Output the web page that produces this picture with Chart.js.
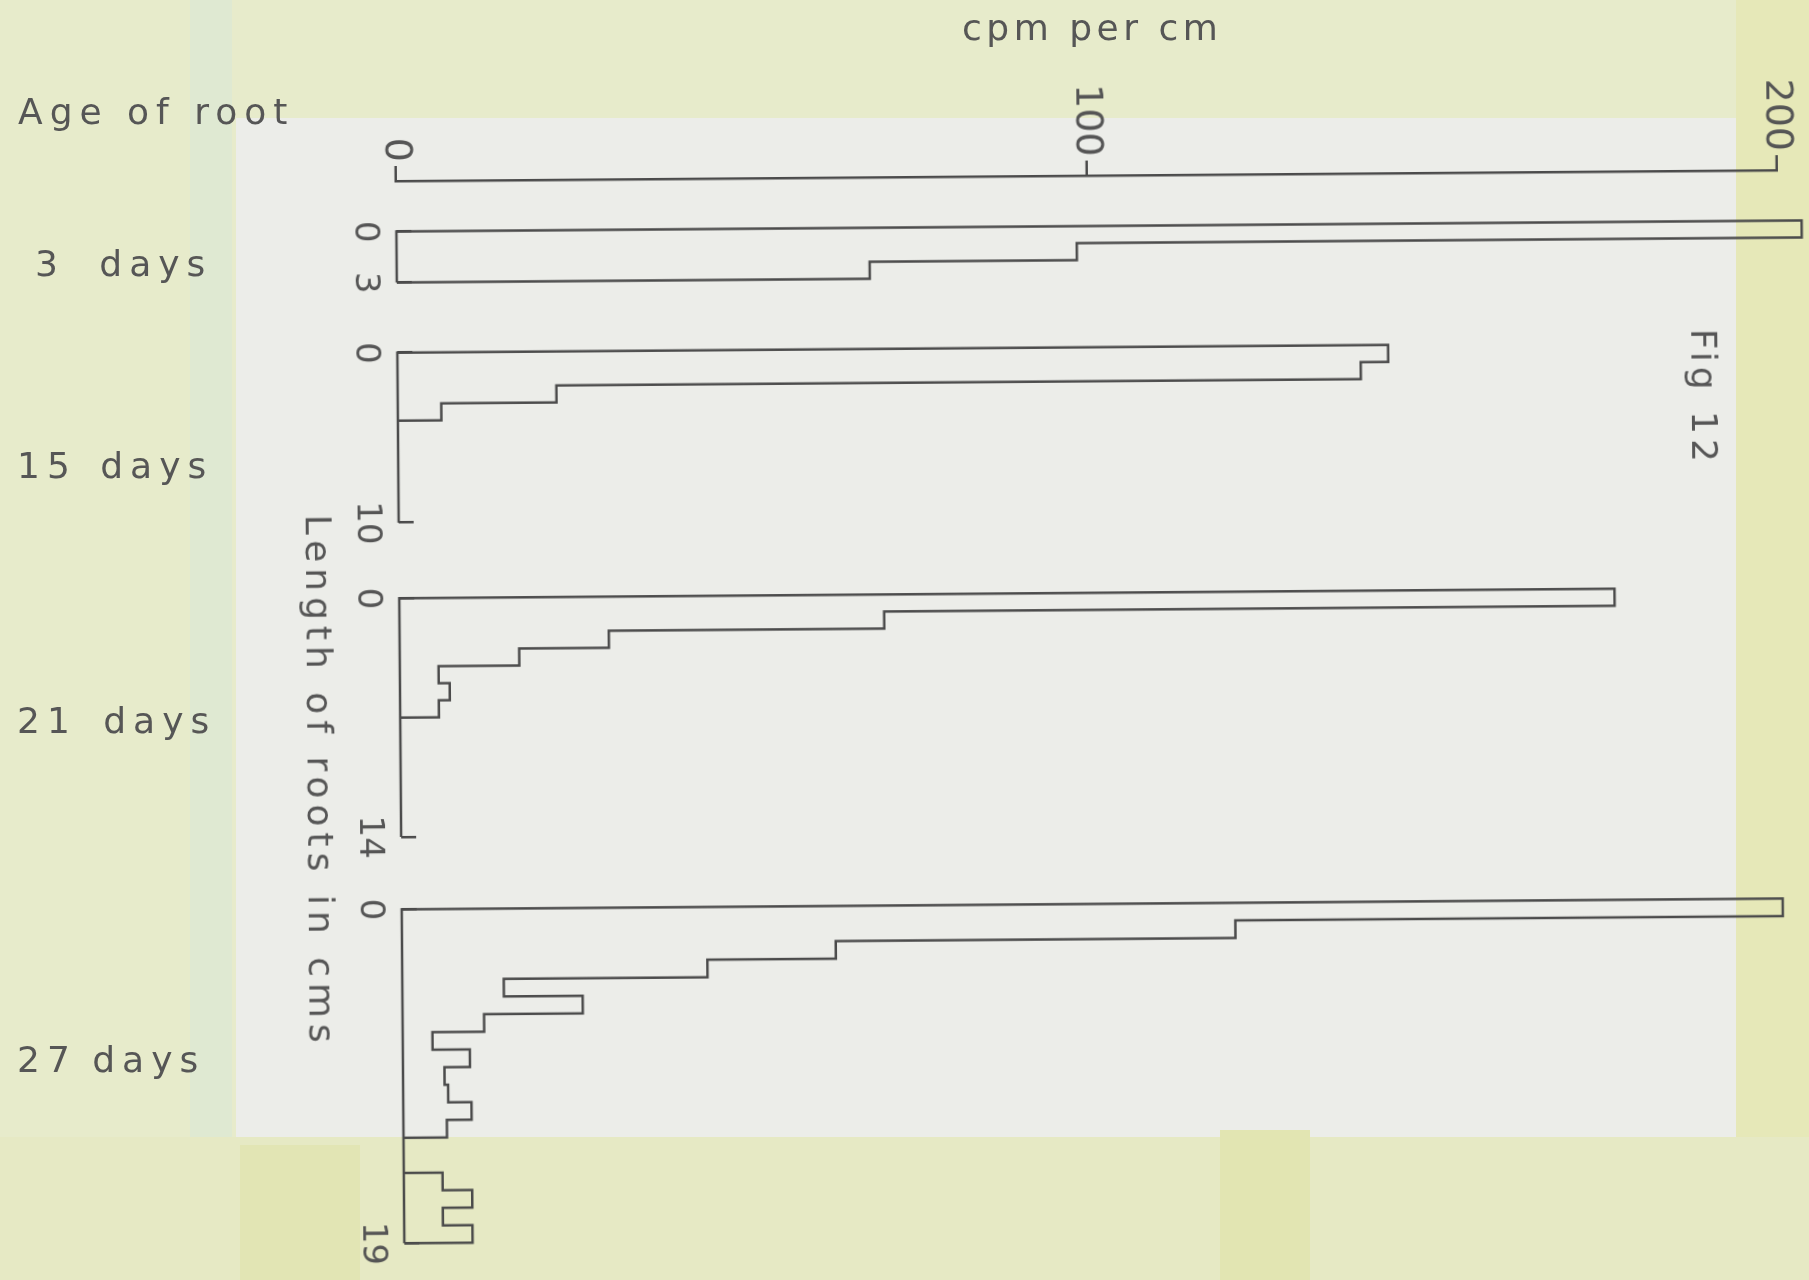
<!DOCTYPE html>
<html><head><meta charset="utf-8">
<script src="https://cdn.jsdelivr.net/npm/chart.js@4.4.1/dist/chart.umd.min.js"></script>
<style>
html,body{margin:0;padding:0;width:1809px;height:1280px;overflow:hidden;background:#e7ebcb;}
.bg{position:absolute;}
.txt{position:absolute;font-family:"DejaVu Sans",sans-serif;font-size:36px;line-height:36px;color:#565656;letter-spacing:7px;white-space:nowrap;}
#tilt{position:absolute;left:0;top:0;width:1809px;height:1280px;transform:rotate(-0.45deg);transform-origin:396px 181px;}
#rot{position:absolute;left:0;top:0;width:1280px;height:1809px;transform:translate(1809px,0) rotate(90deg);transform-origin:0 0;}
#chart{position:absolute;left:0;top:0;}
.ctr{transform:translate(-50%,-50%);}
</style></head>
<body>
<div class="bg" style="left:190px;top:0;width:42px;height:1140px;background:#dfe9d2"></div>
<div class="bg" style="left:236px;top:118px;width:1500px;height:1019px;background:#ecede9"></div>
<div class="bg" style="left:1736px;top:0;width:73px;height:1280px;background:#e6e8b8"></div>
<div class="bg" style="left:0;top:1137px;width:1809px;height:143px;background:#e6e9c4"></div>
<div class="bg" style="left:240px;top:1145px;width:120px;height:135px;background:#e2e5b4"></div>
<div class="bg" style="left:1220px;top:1130px;width:90px;height:150px;background:#e2e5b2"></div>

<div id="tilt"><div id="rot">
<canvas id="chart" width="1280" height="1809"></canvas>
<div class="txt ctr" style="left:781px;top:1494px;letter-spacing:6px">Length of roots in cms</div>
<div class="txt ctr" style="left:408px;top:107px;letter-spacing:5px">Fig 12</div>
</div></div>

<div class="txt" style="left:18px;top:94px">Age of root</div>
<div class="txt" style="left:962px;top:10px;letter-spacing:4.5px">cpm per cm</div>
<div class="txt" id="age0" style="left:35px;top:246px;word-spacing:16px"></div>
<div class="txt" id="age1" style="left:17px;top:448px;word-spacing:5px"></div>
<div class="txt" id="age2" style="left:17px;top:703px;word-spacing:8px"></div>
<div class="txt" id="age3" style="left:17px;top:1042px;word-spacing:-3px"></div>

<script>
// ---- data ----
const ageLabels = ['3 days', '15 days', '21 days', '27 days'];
const rootLengths = [3, 10, 14, 19];
const cpm3days  = [203.5, 98.5, 68.5];
const cpm15days = [143.5, 139.5, 23.0, 6.3, 0, 0, 0, 0, 0, 0];
const cpm21days = [176, 70.2, 30.3, 17.3, 5.6, 7.2, 5.6, 0, 0, 0, 0, 0, 0, 0];
const cpm27days = [200, 120.7, 62.8, 44.2, 14.7, 26.1, 11.8, 4.3, 9.7, 6.0, 6.5, 9.9, 6.3, 0, 0, 5.6, 9.9, 5.6, 9.9];
const cpmTicks = [0, 100, 200];

const series = [cpm3days, cpm15days, cpm21days, cpm27days];

ageLabels.forEach((t, k) => { document.getElementById('age' + k).textContent = t; });

// ---- layout (chart drawn in a frame rotated 90deg clockwise) ----
const LINE = '#4b4b4b', TEXT = '#555555', FONT = '"DejaVu Sans", sans-serif';
const AREA = {left: 181, right: 1270, top: 32, bottom: 1413};
const panelSpan = [[231.5, 282.5], [352.7, 522.7], [598.3, 837.0], [909.4, 1243.3]];

function outline(vals) {
  const n = vals.length;
  const pts = [{x: n, y: 0}, {x: 0, y: 0}];
  vals.forEach((v, i) => { pts.push({x: i, y: v}); pts.push({x: i + 1, y: v}); });
  pts.push({x: n, y: 0});
  return pts;
}

const scales = {
  y: {
    type: 'linear', axis: 'y', position: 'left', min: 0, max: 200, bounds: 'data',
    afterBuildTicks: s => { s.ticks = cpmTicks.map(v => ({value: v})); },
    afterFit: s => { s.width = 100; s.paddingTop = 0; s.paddingBottom = 0; },
    grid: {display: true, drawOnChartArea: false, drawTicks: true, tickLength: 15, color: LINE, lineWidth: 2.5},
    border: {display: true, color: LINE, width: 2.5},
    ticks: {font: {family: FONT, size: 38}, color: TEXT, padding: 4}
  }
};
rootLengths.forEach((n, k) => {
  const [a, b] = panelSpan[k];
  const w = AREA.right - AREA.left;
  const span = n * w / (b - a);
  const min = -(a - AREA.left) / w * span;
  scales['x' + k] = {
    type: 'linear', axis: 'x', position: {y: 0}, min: min, max: min + span, bounds: 'data',
    afterBuildTicks: s => { s.ticks = [{value: 0}, {value: n}]; },
    afterFit: s => { s.paddingLeft = 0; s.paddingRight = 0; },
    grid: {display: true, drawOnChartArea: false, drawTicks: true, tickLength: -15, color: LINE, lineWidth: 2.5},
    border: {display: false},
    ticks: {font: {family: FONT, size: 34}, color: TEXT, padding: 27, maxRotation: 0, minRotation: 0, autoSkip: false}
  };
});

new Chart(document.getElementById('chart'), {
  type: 'scatter',
  data: {
    datasets: series.map((vals, k) => ({
      label: ageLabels[k], data: outline(vals), xAxisID: 'x' + k, yAxisID: 'y',
      showLine: true, borderColor: LINE, borderWidth: 2.5, pointRadius: 0, pointHoverRadius: 0,
      fill: false, tension: 0, clip: false, borderJoinStyle: 'miter'
    }))
  },
  options: {
    responsive: false, animation: false, devicePixelRatio: 1, events: [],
    layout: {padding: {left: AREA.left - 100, right: 1280 - AREA.right, top: AREA.top, bottom: 1809 - AREA.bottom}},
    plugins: {legend: {display: false}, tooltip: {enabled: false}, title: {display: false}},
    scales: scales
  }
});
</script>
</body></html>
